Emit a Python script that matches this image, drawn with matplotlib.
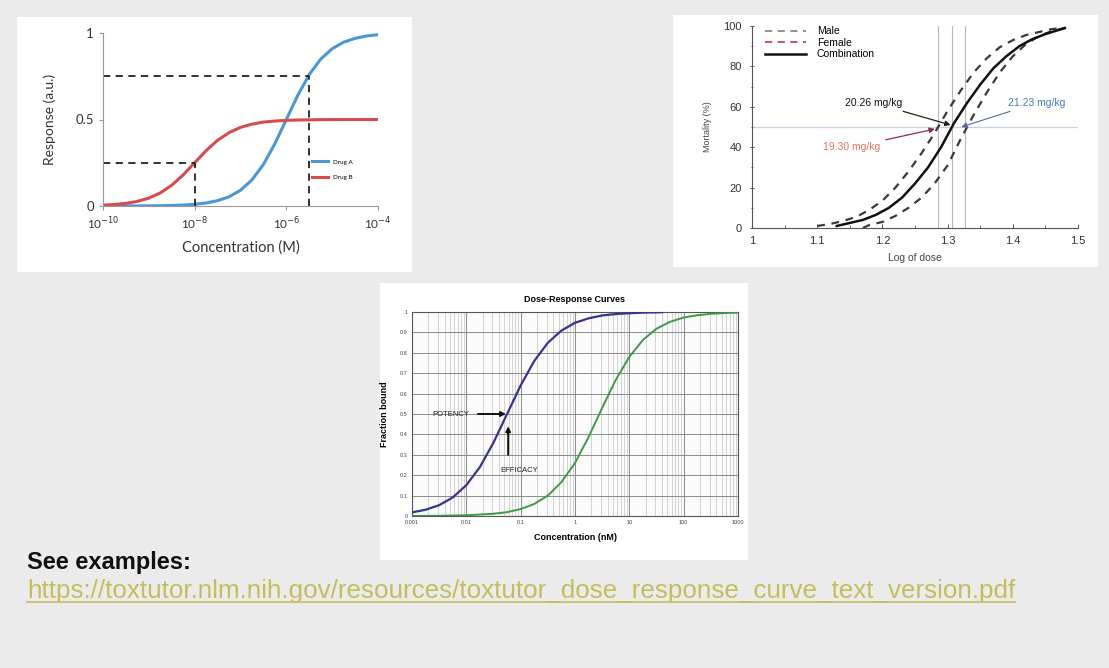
import matplotlib
matplotlib.use('Agg')
import matplotlib.pyplot as plt
from matplotlib.patches import Rectangle
from matplotlib.lines import Line2D
from matplotlib.ticker import FixedLocator, NullFormatter, MultipleLocator
import numpy as np

W, H = 1109, 668
BG = '#ebebeb'

# ---- panel 1: two drugs, response vs concentration (log10 M) ----
P1_EXP = [-10, -9.75, -9.5, -9.25, -9, -8.75, -8.5, -8.25, -8, -7.75, -7.5, -7.25, -7,
          -6.75, -6.5, -6.25, -6, -5.75, -5.5, -5.25, -5, -4.75, -4.5, -4.25, -4]
DRUG_A = [0.0001, 0.0002, 0.0003, 0.0006, 0.001, 0.0018, 0.003, 0.0056, 0.0099, 0.0175,
          0.031, 0.053, 0.091, 0.151, 0.24, 0.36, 0.5, 0.64, 0.76, 0.849, 0.909, 0.947,
          0.969, 0.983, 0.99]
DRUG_B = [0.005, 0.0087, 0.0153, 0.0266, 0.0455, 0.0755, 0.12, 0.18, 0.25, 0.32, 0.38,
          0.424, 0.4545, 0.473, 0.485, 0.491, 0.495, 0.497, 0.498, 0.499, 0.4995, 0.5,
          0.5, 0.5, 0.5]
GUIDE_EXP = [-8, -5.5]
GUIDE_LEVEL = [0.25, 0.75]
P1_XTICK_EXP = [-10, -8, -6, -4]

# ---- panel 2: mortality vs log dose ----
FEMALE_X = [1.10, 1.12, 1.14, 1.16, 1.18, 1.20, 1.22, 1.24, 1.26, 1.28, 1.30, 1.32, 1.34,
            1.36, 1.38, 1.40, 1.42, 1.44, 1.46, 1.48]
FEMALE_Y = [1, 2, 3.5, 5.5, 9, 13.5, 20, 28, 37, 47, 58, 68, 77, 84, 89.5, 93, 95.5, 97, 98.5, 99]
COMB_X = [1.13, 1.15, 1.17, 1.19, 1.21, 1.23, 1.25, 1.27, 1.29, 1.31, 1.33, 1.35, 1.37,
          1.39, 1.41, 1.43, 1.45, 1.47, 1.48]
COMB_Y = [1, 2.5, 4, 6.5, 10, 15, 22, 30, 40, 52, 62, 71, 79, 85, 90, 93.5, 96, 98, 99]
MALE_X = [1.17, 1.18, 1.20, 1.22, 1.24, 1.26, 1.28, 1.30, 1.32, 1.34, 1.36, 1.38, 1.40,
          1.42, 1.44, 1.46, 1.48]
MALE_Y = [0, 1.5, 3, 6, 10, 15, 22, 31, 44, 56, 67, 77, 85, 91, 95, 97.5, 99]
LD50_LABELS = ['19.30 mg/kg', '20.26 mg/kg', '21.23 mg/kg']
LD50_DOSE = [19.30, 20.26, 21.23]

# ---- panel 3: fraction bound vs concentration (log10 nM) ----
BLUE_EXP = [-3, -2.75, -2.5, -2.25, -2, -1.75, -1.5, -1.25, -1, -0.75, -0.5, -0.25, 0,
            0.25, 0.5, 0.75, 1.0, 1.25, 1.6]
BLUE_Y = [0.0175, 0.0307, 0.053, 0.091, 0.151, 0.24, 0.36, 0.5, 0.64, 0.76, 0.849, 0.909,
          0.947, 0.969, 0.983, 0.99, 0.994, 0.997, 0.999]
GREEN_EXP = [-3, -2.5, -2, -1.5, -1.25, -1, -0.75, -0.5, -0.25, 0, 0.25, 0.5, 0.75, 1,
             1.25, 1.5, 1.75, 2, 2.25, 2.5, 2.75, 3]
GREEN_Y = [0.0004, 0.001, 0.0035, 0.011, 0.019, 0.034, 0.059, 0.10, 0.166, 0.26, 0.387,
           0.53, 0.667, 0.78, 0.863, 0.918, 0.952, 0.973, 0.984, 0.991, 0.995, 0.997]
P3_XTICKS = [0.001, 0.01, 0.1, 1, 10, 100, 1000]
P3_XTICKLABELS = ['0.001', '0.01', '0.1', '1', '10', '100', '1000']

URL = 'https://toxtutor.nlm.nih.gov/resources/toxtutor_dose_response_curve_text_version.pdf'


def box(x0, y0, x1, y1):
    return [x0 / W, 1 - y1 / H, (x1 - x0) / W, (y1 - y0) / H]


fig = plt.figure(figsize=(W / 100, H / 100), dpi=100, facecolor=BG)
for (x0, y0, x1, y1) in [(17, 17, 412, 272), (673, 15, 1098, 267), (380, 283, 748, 560)]:
    fig.add_artist(Rectangle((x0 / W, 1 - y1 / H), (x1 - x0) / W, (y1 - y0) / H,
                             transform=fig.transFigure, facecolor='white', edgecolor='none',
                             zorder=0))

# ═══════ panel 1 ═══════
F1 = 'Lato'
ax1 = fig.add_axes(box(103, 33, 378, 206))
ax1.set_facecolor('none')
ca = 10.0 ** np.array(P1_EXP)
ax1.plot(ca, DRUG_A, color='#4a97d4', lw=2.2, label='Drug A')
ax1.plot(ca, DRUG_B, color='#d84b4b', lw=2.2, label='Drug B')
for e, lv in zip(GUIDE_EXP, GUIDE_LEVEL):
    ax1.plot([10.0 ** P1_EXP[0], 10.0 ** e], [lv, lv], color='#222', lw=1.3, ls=(0, (4, 3)))
    ax1.plot([10.0 ** e, 10.0 ** e], [0, lv], color='#222', lw=1.3, ls=(0, (4, 3)))
ax1.set_xscale('log')
ax1.set_xlim(10.0 ** P1_EXP[0], 10.0 ** P1_EXP[-1])
ax1.set_ylim(0, 1)
ax1.xaxis.set_major_locator(FixedLocator([10.0 ** e for e in P1_XTICK_EXP]))
ax1.xaxis.set_minor_locator(FixedLocator([]))
ax1.set_xticklabels(['10$^{%d}$' % e for e in P1_XTICK_EXP], fontsize=8.5, family=F1, color='#333')
ax1.set_yticks([0, 0.5, 1])
ax1.set_yticklabels(['0', '0.5', '1'], fontsize=9.5, family=F1, color='#333')
for s in ['top', 'right']:
    ax1.spines[s].set_visible(False)
for s in ['left', 'bottom']:
    ax1.spines[s].set_color('#999')
ax1.tick_params(colors='#999', labelcolor='#333', length=3, width=0.8)
ax1.set_xlabel('Concentration (M)', fontsize=10.5, family=F1, color='#333', labelpad=6)
ax1.set_ylabel('Response (a.u.)', fontsize=10, family=F1, color='#333', labelpad=14)
ax1.legend(loc='center left', bbox_to_anchor=(0.74, 0.21), frameon=False,
           handlelength=2.6, labelspacing=1.6, prop={'family': F1, 'size': 4.5})

# ═══════ panel 2 ═══════
F2 = 'Liberation Sans'
ax2 = fig.add_axes(box(752, 26, 1078, 228))
ax2.set_facecolor('none')
ld_log = np.log10(LD50_DOSE)
for v in ld_log:
    ax2.axvline(v, color='#b8b8b8', lw=0.8, zorder=1)
ax2.axhline(50, color='#c9d2e2', lw=0.9, zorder=1)
ax2.plot(FEMALE_X, FEMALE_Y, color='#3a3a3a', lw=1.6, ls=(0, (3.5, 3)), zorder=3)
ax2.plot(MALE_X, MALE_Y, color='#3a3a3a', lw=1.6, ls=(0, (3.5, 3)), zorder=3)
ax2.plot(COMB_X, COMB_Y, color='#111', lw=1.8, zorder=4)
ax2.set_xlim(1, 1.5)
ax2.set_ylim(0, 100)
ax2.set_xticks([1, 1.1, 1.2, 1.3, 1.4, 1.5])
ax2.set_xticklabels(['1', '1.1', '1.2', '1.3', '1.4', '1.5'])
ax2.xaxis.set_minor_locator(MultipleLocator(0.05))
ax2.set_yticks([0, 20, 40, 60, 80, 100])
ax2.yaxis.set_minor_locator(MultipleLocator(10))
for lab in ax2.get_yticklabels() + ax2.get_xticklabels():
    lab.set_fontsize(8)
    lab.set_family(F2)
    lab.set_color('#333')
for s in ['top', 'right']:
    ax2.spines[s].set_visible(False)
for s in ['left', 'bottom']:
    ax2.spines[s].set_color('#555')
ax2.tick_params(which='major', length=3, width=0.7, colors='#555', labelcolor='#333', pad=6)
ax2.tick_params(which='minor', length=2, width=0.6, colors='#555')
ax2.tick_params(axis='y', which='both', direction='inout')
ax2.tick_params(axis='x', which='both', direction='in')
ax2.set_xlabel('Log of dose', fontsize=7.5, family=F2, color='#444', labelpad=5)
ax2.set_ylabel('Mortality (%)', fontsize=6.5, family=F2, color='#444', labelpad=8)
handles = [Line2D([], [], color='#888', lw=1.3, ls=(0, (4, 3))),
           Line2D([], [], color='#c04a55', lw=1.3, ls=(0, (4, 3))),
           Line2D([], [], color='#111', lw=1.8)]
ax2.legend(handles, ['Male', 'Female', 'Combination'], loc='upper left',
           bbox_to_anchor=(0.01, 1.045), frameon=False, handlelength=4.0, labelspacing=0.15,
           handletextpad=1.0, prop={'family': F2, 'size': 7.5})
ax2.annotate(LD50_LABELS[1], xy=(ld_log[1] - 0.002, 51), xytext=(1.186, 62), fontsize=7.5,
             family=F2, color='#111', ha='center', va='center',
             arrowprops=dict(arrowstyle='-|>', color='#222', lw=0.9, mutation_scale=8,
                             shrinkA=2, shrinkB=0))
ax2.annotate(LD50_LABELS[0], xy=(ld_log[0] - 0.005, 49), xytext=(1.153, 40), fontsize=7.5,
             family=F2, color='#e8735e', ha='center', va='center',
             arrowprops=dict(arrowstyle='-|>', color='#8a3040', lw=0.9, mutation_scale=8,
                             shrinkA=2, shrinkB=0))
ax2.annotate(LD50_LABELS[2], xy=(ld_log[2] - 0.006, 50), xytext=(1.437, 62), fontsize=7.5,
             family=F2, color='#4a78c0', ha='center', va='center',
             arrowprops=dict(arrowstyle='-|>', color='#506aa0', lw=0.8, mutation_scale=8,
                             shrinkA=2, shrinkB=0))

# ═══════ panel 3 ═══════
F3 = 'Liberation Sans'
ax3 = fig.add_axes(box(412, 312, 738, 516))
ax3.set_facecolor('#fbfbfb')
ax3.set_xscale('log')
ax3.plot(10.0 ** np.array(BLUE_EXP), BLUE_Y, color='#35358f', lw=1.6, zorder=4)
ax3.plot(10.0 ** np.array(GREEN_EXP), GREEN_Y, color='#3f9a48', lw=1.4, zorder=4)
ax3.set_xlim(P3_XTICKS[0], P3_XTICKS[-1])
ax3.set_ylim(0, 1)
ax3.set_xticks(P3_XTICKS)
ax3.set_xticklabels(P3_XTICKLABELS, fontsize=4, family=F3, color='#444')
ax3.xaxis.set_minor_formatter(NullFormatter())
ax3.set_yticks(np.arange(0, 1.01, 0.1))
ax3.set_yticklabels(['0'] + ['%.1f' % v for v in np.arange(0.1, 0.95, 0.1)] + ['1'],
                    fontsize=4, family=F3, color='#444')
ax3.grid(which='major', color='#8a8a8a', lw=0.7)
ax3.grid(which='minor', axis='x', color='#b4b4b4', lw=0.4)
ax3.set_axisbelow(True)
for s in ax3.spines.values():
    s.set_color('#555')
    s.set_linewidth(0.8)
ax3.tick_params(which='both', length=0, pad=3)
ax3.set_title('Dose-Response Curves', fontsize=6.5, fontweight='bold', family=F3, pad=7)
ax3.set_xlabel('Concentration (nM)', fontsize=6.5, fontweight='bold', family=F3, labelpad=6)
ax3.set_ylabel('Fraction bound', fontsize=6.5, fontweight='bold', family=F3, labelpad=8)
ax3.annotate('POTENCY', xy=(10 ** -1.27, 0.5), xytext=(10 ** -2.28, 0.5), fontsize=5.5,
             family=F3, ha='center', va='center', color='#222',
             arrowprops=dict(arrowstyle='-|>', color='#111', lw=1.4, mutation_scale=7,
                             shrinkA=4, shrinkB=0))
ax3.annotate('', xy=(10 ** -1.23, 0.44), xytext=(10 ** -1.23, 0.30),
             arrowprops=dict(arrowstyle='-|>', color='#111', lw=1.4, mutation_scale=7,
                             shrinkA=0, shrinkB=0))
ax3.text(10 ** -1.03, 0.225, 'EFFICACY', fontsize=5.5, family=F3, ha='center', va='center',
         color='#222')

# ═══════ footer text ═══════
fig.text(27 / W, 1 - 563 / H, 'See examples:', fontsize=17, fontweight='bold',
         family='Liberation Sans', color='#111', va='center', ha='left')
link = fig.text(27 / W, 1 - 591 / H, URL, fontsize=18.7, family='Liberation Sans',
                color='#c6bd5a', va='center', ha='left')
fig.canvas.draw()
bb = link.get_window_extent()
fig.add_artist(Line2D([bb.x0 / W, bb.x1 / W], [(bb.y0 + 1) / H, (bb.y0 + 1) / H],
                      transform=fig.transFigure, color='#c6bd5a', lw=1.2))

fig.savefig('out.png', dpi=100, facecolor=BG)
